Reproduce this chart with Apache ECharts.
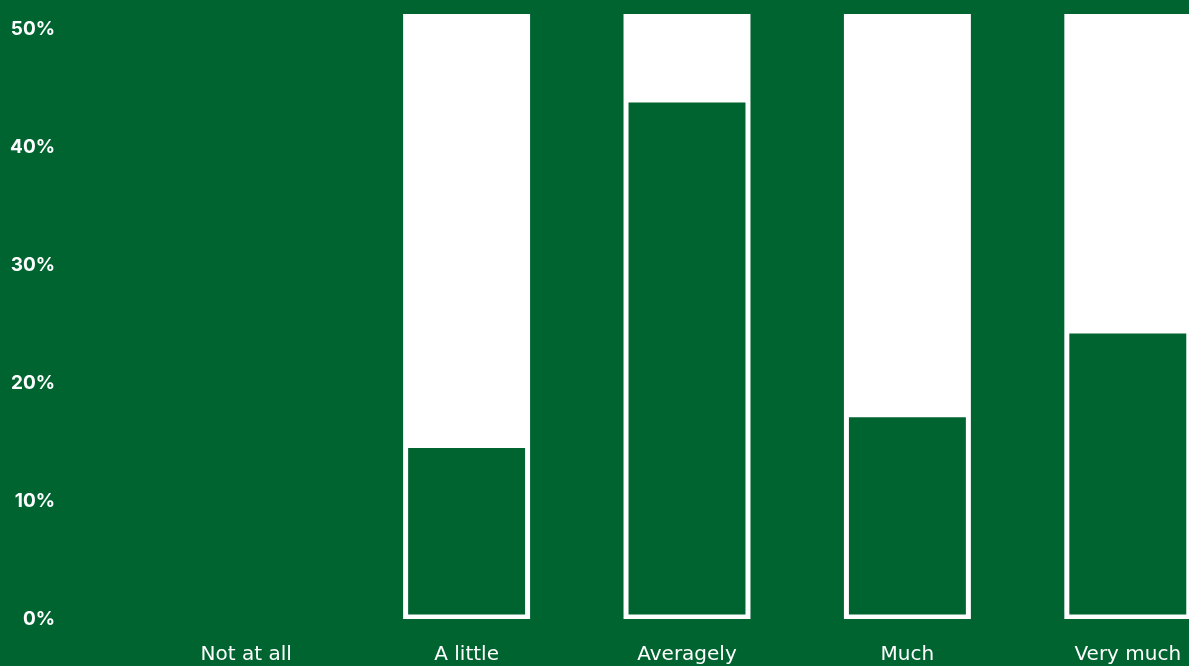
<!DOCTYPE html>
<html>
<head>
<meta charset="utf-8">
<style>
  html, body { margin: 0; padding: 0; background: #006430; }
  #chart { width: 1189px; height: 666px; }
</style>
<script src="https://cdn.jsdelivr.net/npm/echarts@6/dist/echarts.min.js"></script>
</head>
<body>
<div id="chart"></div>
<script>
// Answer options and share of respondents (%)
const categories = ['Not at all', 'A little', 'Averagely', 'Much', 'Very much'];
const shares = [0, 14.5, 43.8, 17.1, 24.2];
const yTicks = [0, 10, 20, 30, 40, 50];

const GREEN = '#006430';
const Y_MAX = 51.3;

const chart = echarts.init(document.getElementById('chart'));

// Each answer is drawn as a white frame spanning the full scale,
// with the share filled in green inside it.
function renderFramedBar(params, api) {
  const idx = api.value(0);
  const v = api.value(1);
  if (!(v > 0)) return null;
  const band = api.size([1, 0])[0];
  const w = band * 0.576;
  const base = api.coord([idx, 0]);
  const top = api.coord([idx, Y_MAX]);
  const valTop = api.coord([idx, v]);
  const x0 = base[0] - w / 2;
  const inset = 5;
  return {
    type: 'group',
    children: [
      {
        type: 'rect',
        shape: { x: x0, y: top[1], width: w, height: base[1] - top[1] },
        style: { fill: '#ffffff' }
      },
      {
        type: 'rect',
        shape: {
          x: x0 + inset,
          y: valTop[1],
          width: w - inset * 2,
          height: base[1] - 4.5 - valTop[1]
        },
        style: { fill: GREEN }
      }
    ]
  };
}

chart.setOption({
  backgroundColor: GREEN,
  animation: false,
  grid: {
    left: 136, width: 1102, top: 14, bottom: 47,
    containLabel: false,
    outerBoundsMode: 'none'
  },
  xAxis: {
    type: 'category',
    data: categories,
    axisLine: { show: false },
    axisTick: { show: false },
    splitLine: { show: false },
    axisLabel: {
      color: '#ffffff',
      fontFamily: 'DejaVu Sans',
      fontWeight: 'normal',
      fontSize: 20,
      margin: 26,
      interval: 0,
      hideOverlap: false
    }
  },
  yAxis: {
    type: 'value',
    min: 0,
    max: Y_MAX,
    interval: 10,
    axisLine: { show: false },
    axisTick: { show: false },
    splitLine: { show: false },
    axisLabel: {
      color: '#ffffff',
      fontFamily: 'Inter',
      fontWeight: 'bold',
      fontSize: 19,
      margin: 81,
      formatter: function (v) {
        return yTicks.indexOf(v) >= 0 ? v + '%' : '';
      }
    }
  },
  series: [
    {
      type: 'custom',
      renderItem: renderFramedBar,
      encode: { x: 0, y: 1 },
      data: categories.map(function (c, i) { return [i, shares[i]]; })
    }
  ]
});
</script>
</body>
</html>
